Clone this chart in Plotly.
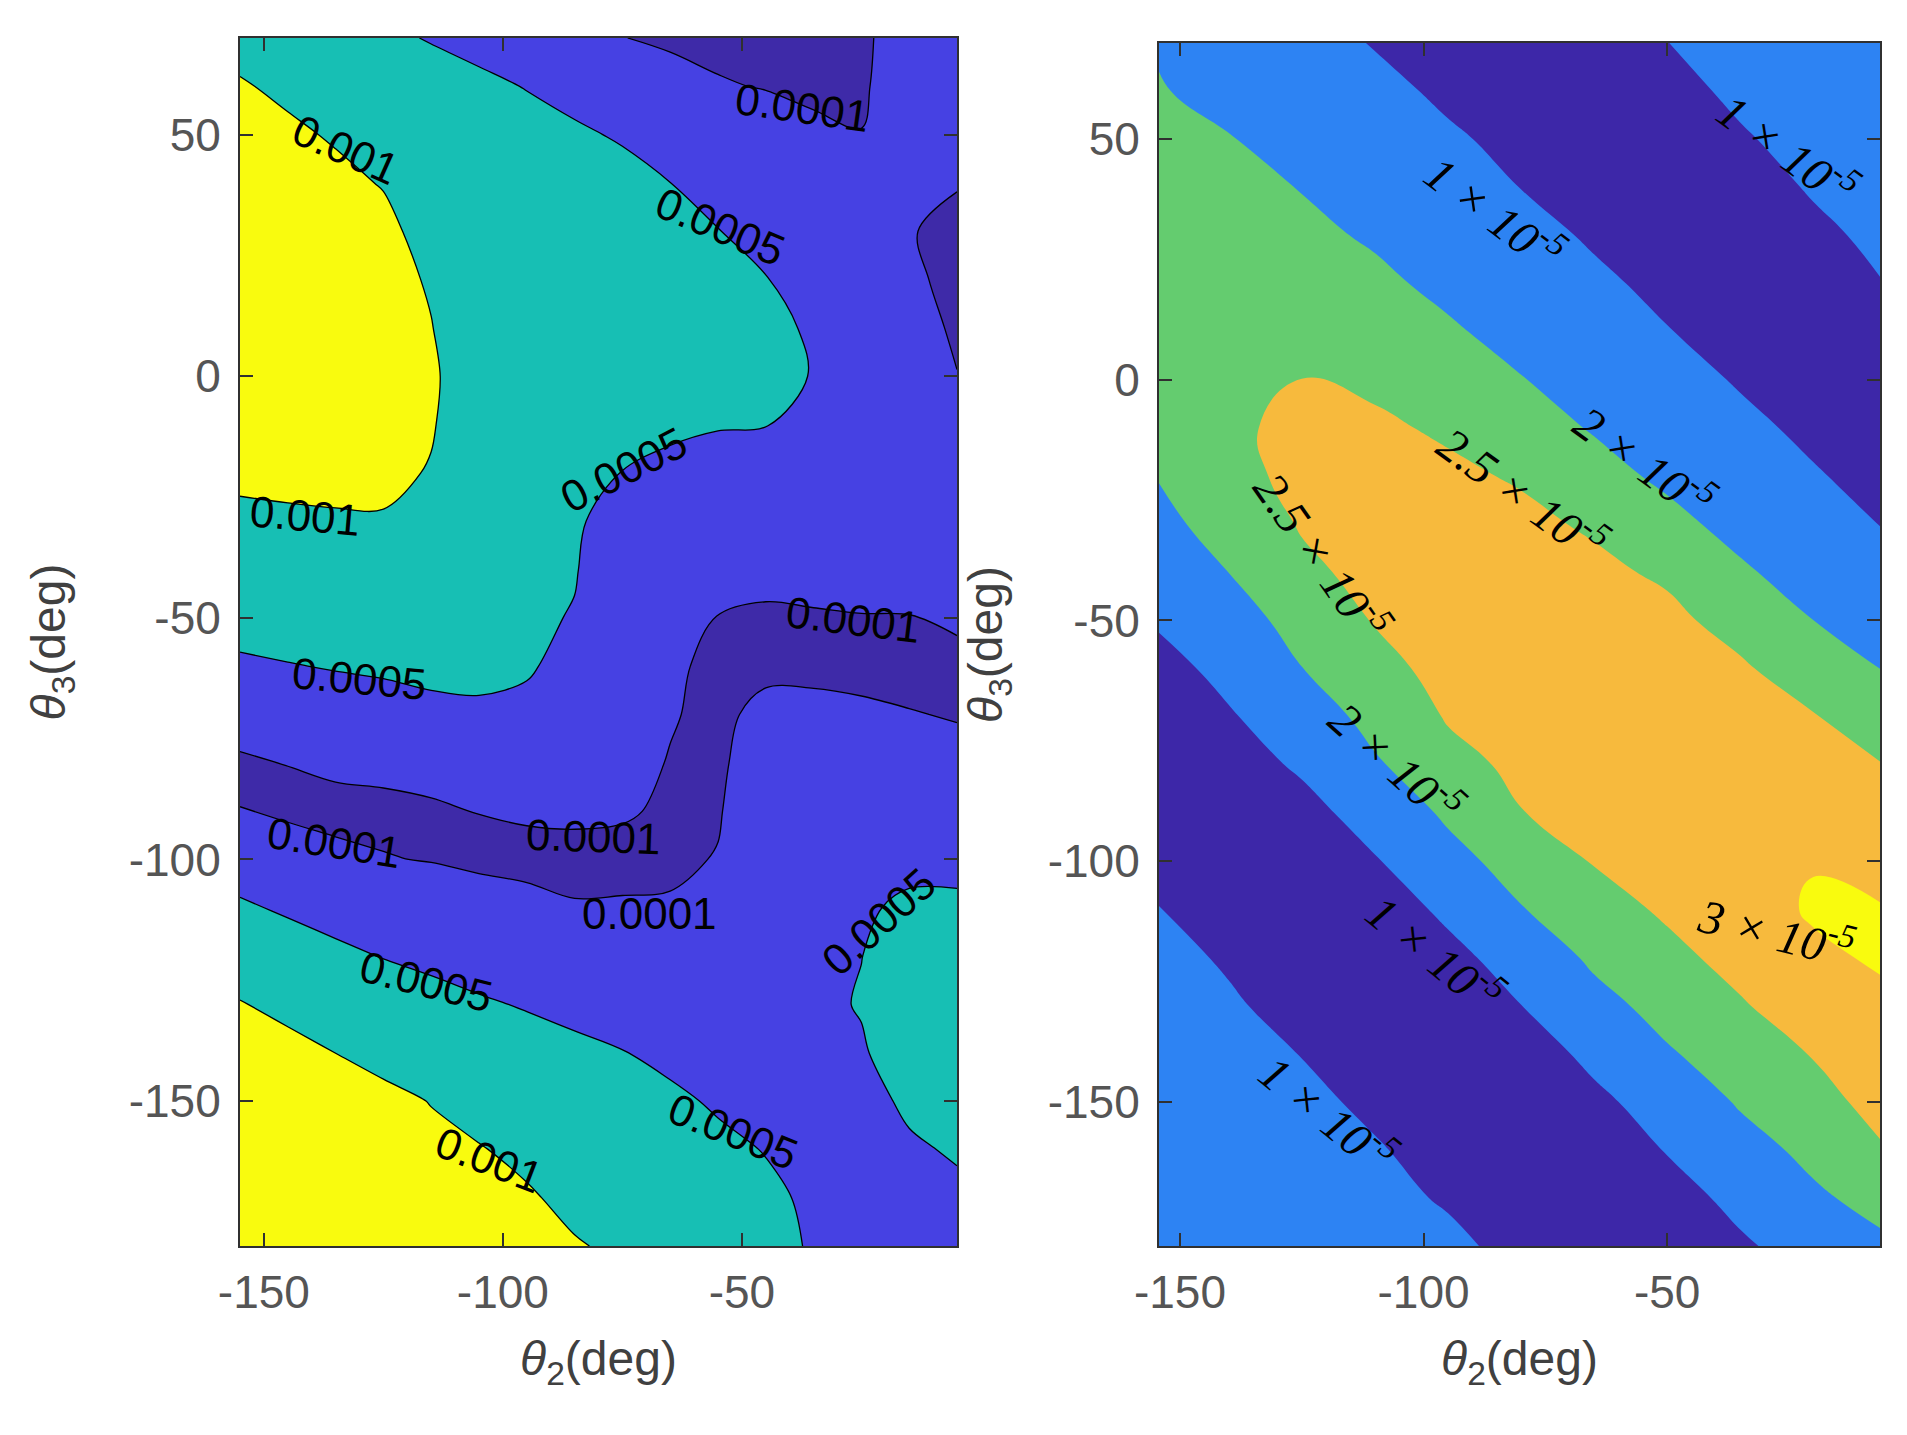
import numpy as np
import plotly.graph_objects as go

# ---------------- Left panel data (units of 1e-4) ----------------
left_theta2 = [-155, -145, -135, -125, -115, -105, -95, -85, -75, -65, -55, -45, -35, -25, -15, -5]
left_theta3 = [70, 60, 50, 40, 30, 20, 10, 0, -10, -20, -30, -40, -50, -60, -70, -80,
               -90, -100, -110, -120, -130, -140, -150, -160, -170, -180]
# one list per theta2 column, values from theta3 = 70 down to -180
left_cols = [
    [9.13, 10.22, 10.89, 11.56, 12.24, 12.91, 12.42, 11.75, 11.2, 10.6, 9.36, 7.77, 6.18, 4.52, 2.66, 0.5, 1.05, 3.29, 5.47, 7.84, 10.21, 12.3, 13.2, 13.8, 14.2, 14.5],
    [8.2, 9.5, 10.45, 11.17, 11.89, 12.62, 12.66, 11.94, 11.22, 10.8, 9.51, 7.97, 6.43, 4.87, 3.07, 1.06, 0.5, 2.67, 4.54, 6.73, 8.97, 11.2, 12.2, 13.0, 13.6, 14.0],
    [7.15, 8.45, 9.75, 10.6, 11.34, 12.08, 12.79, 12.05, 11.31, 10.9, 9.66, 8.16, 6.67, 5.18, 3.44, 1.4, 0.4, 1.53, 3.75, 5.71, 7.84, 9.98, 12.1, 12.9, 13.5, 14.0],
    [5.52, 6.97, 8.41, 9.86, 10.67, 11.42, 12.16, 12.09, 11.34, 10.9, 9.7, 8.28, 6.85, 5.43, 3.77, 1.6, 0.45, 1.11, 3.09, 4.88, 6.88, 8.91, 10.9, 12.0, 12.8, 13.4],
    [4.83, 6.2, 7.3, 8.2, 9.0, 9.6, 10.13, 10.6, 10.32, 9.75, 8.63, 7.59, 6.54, 5.5, 4.5, 2.2, 0.55, 0.9, 2.55, 4.26, 6.08, 7.98, 9.89, 10.8, 11.8, 12.5],
    [4.75, 5.17, 5.54, 5.92, 6.3, 6.67, 7.05, 7.42, 7.19, 6.8, 6.41, 6.02, 5.63, 5.23, 4.85, 3.0, 1.05, 0.55, 2.09, 3.72, 5.35, 7.0, 8.66, 10.2, 11.4, 12.2],
    [4.66, 4.97, 5.28, 5.59, 5.9, 6.21, 6.52, 6.84, 6.83, 6.49, 6.15, 5.81, 5.47, 5.13, 4.7, 3.0, 1.2, 0.54, 1.5, 3.23, 4.78, 6.25, 7.7, 9.14, 10.4, 11.5],
    [4.43, 4.78, 5.1, 5.38, 5.66, 5.94, 6.22, 6.5, 6.17, 5.84, 5.5, 5.17, 4.85, 4.6, 3.5, 2.4, 1.3, 0.5, 1.12, 2.78, 4.27, 5.6, 6.76, 7.93, 9.1, 10.27],
    [1.05, 3.0, 4.93, 5.22, 5.5, 5.8, 6.09, 5.82, 5.41, 4.97, 3.42, 3.05, 2.9, 2.6, 2.2, 1.7, 1.18, 0.5, 1.17, 2.57, 3.83, 5.08, 6.2, 7.3, 8.4, 9.4],
    [0.6, 1.96, 3.5, 5.02, 5.36, 5.71, 5.98, 5.54, 5.16, 4.79, 4.2, 3.5, 2.8, 1.4, 1.15, 0.9, 0.75, 0.6, 1.21, 2.2, 3.3, 4.4, 5.47, 6.5, 7.5, 8.4],
    [0.6, 1.13, 2.5, 3.8, 5.03, 5.4, 5.8, 5.42, 5.05, 4.67, 3.6, 2.3, 0.9, 0.45, 0.5, 0.5, 0.8, 1.11, 1.8, 2.6, 3.4, 4.1, 4.7, 5.56, 6.5, 7.4],
    [0.6, 0.92, 1.9, 3.4, 4.78, 5.025, 5.3, 5.35, 5.02, 4.62, 3.5, 2.0, 0.5, 0.5, 1.61, 2.67, 2.9, 3.2, 3.5, 3.8, 4.0, 4.2, 4.5, 4.9, 5.49, 6.0],
    [0.55, 0.78, 1.23, 2.5, 3.6, 4.7, 4.85, 4.95, 4.8, 4.5, 3.5, 2.1, 0.71, 0.5, 1.59, 2.6, 3.0, 3.5, 4.0, 4.3, 4.45, 4.4, 4.3, 4.3, 4.58, 4.7],
    [0.85, 0.8, 1.03, 2.0, 2.8, 3.2, 3.4, 3.4, 3.2, 2.9, 2.4, 1.7, 0.93, 0.5, 1.31, 2.3, 3.1, 3.8, 4.45, 4.97, 5.15, 4.75, 4.3, 4.1, 4.1, 4.1],
    [1.43, 1.91, 2.3, 1.7, 1.09, 1.28, 1.71, 2.2, 2.0, 1.8, 1.5, 1.15, 0.98, 0.5, 1.07, 1.8, 2.8, 3.9, 5.73, 6.1, 6.4, 6.3, 5.36, 4.72, 4.3, 4.2],
    [2.0, 2.3, 1.9, 1.09, 0.6, 0.6, 0.75, 1.04, 1.8, 1.6, 1.3, 1.5, 1.29, 0.5, 0.9, 1.49, 2.6, 3.8, 5.8, 6.3, 6.5, 6.4, 6.0, 5.22, 4.57, 4.3],
]
left_levels = [1, 5, 10]            # 0.0001, 0.0005, 0.001
left_colors = ["#3E2AA8", "#4641E3", "#17BFB4", "#F9FB0E"]

# ---------------- Right panel data (units of 1e-5) ----------------
right_theta2 = [-155, -140, -125, -110, -95, -80, -65, -50, -35, -20, -5]
right_theta3 = left_theta3
right_cols = [
    [1.97, 2.05, 2.14, 2.21, 2.24, 2.25, 2.23, 2.18, 2.11, 2.006, 1.83, 1.53, 1.1, 0.58, 0.15, 0.15, 0.15, 0.55, 1.07, 1.59, 1.6, 1.6, 1.6, 1.6, 1.6, 1.6],
    [1.57, 1.81, 2.03, 2.15, 2.26, 2.34, 2.39, 2.42, 2.43, 2.37, 2.23, 2.003, 1.7, 1.33, 0.89, 0.43, 0.15, 0.15, 0.32, 0.78, 1.24, 1.6, 1.6, 1.6, 1.6, 1.6],
    [1.29, 1.52, 1.75, 1.98, 2.154, 2.296, 2.412, 2.502, 2.6, 2.61, 2.53, 2.42, 2.24, 1.99, 1.66, 1.18, 0.59, 0.15, 0.15, 0.15, 0.35, 0.95, 1.55, 1.6, 1.6, 1.6],
    [0.96, 1.2, 1.44, 1.68, 1.92, 2.14, 2.32, 2.45, 2.547, 2.63, 2.69, 2.61, 2.52, 2.39, 2.19, 1.93, 1.51, 0.92, 0.26, 0.15, 0.15, 0.15, 0.54, 1.2, 1.6, 1.6],
    [0.66, 0.87, 1.1, 1.35, 1.59, 1.84, 2.09, 2.30, 2.46, 2.556, 2.64, 2.72, 2.69, 2.61, 2.53, 2.38, 2.11, 1.77, 1.27, 0.62, 0.15, 0.15, 0.15, 0.15, 0.79, 1.46],
    [0.42, 0.62, 0.81, 0.99, 1.25, 1.51, 1.77, 2.03, 2.29, 2.47, 2.57, 2.66, 2.75, 2.76, 2.67, 2.58, 2.49, 2.28, 1.97, 1.58, 0.99, 0.32, 0.15, 0.15, 0.15, 0.38],
    [0.66, 0.47, 0.52, 0.71, 0.91, 1.14, 1.41, 1.68, 1.95, 2.24, 2.46, 2.57, 2.68, 2.78, 2.82, 2.72, 2.62, 2.52, 2.36, 2.11, 1.8, 1.33, 0.71, 0.15, 0.15, 0.15],
    [0.99, 0.79, 0.59, 0.41, 0.61, 0.82, 1.03, 1.31, 1.59, 1.87, 2.2, 2.45, 2.58, 2.7, 2.81, 2.88, 2.77, 2.66, 2.55, 2.41, 2.21, 1.94, 1.58, 1.07, 0.46, 0.15],
    [1.33, 1.13, 0.93, 0.72, 0.51, 0.5, 0.71, 0.93, 1.19, 1.49, 1.78, 2.1, 2.38, 2.545, 2.67, 2.79, 2.91, 2.9, 2.75, 2.61, 2.47, 2.3, 2.06, 1.77, 1.36, 0.81],
    [1.57, 1.4, 1.23, 1.06, 0.86, 0.64, 0.42, 0.6, 0.83, 1.07, 1.38, 1.69, 2.003, 2.32, 2.52, 2.66, 2.8, 2.97, 3.06, 2.9, 2.68, 2.52, 2.37, 2.15, 1.9, 1.57],
    [1.76, 1.61, 1.46, 1.31, 1.16, 1.01, 0.78, 0.55, 0.48, 0.72, 0.95, 1.27, 1.62, 1.97, 2.28, 2.495, 2.66, 2.83, 3.01, 3.08, 2.9, 2.79, 2.64, 2.49, 2.22, 1.91],
]
right_levels = [1, 2, 2.5, 3]       # 1e-5, 2e-5, 2.5e-5, 3e-5
right_colors = ["#3D27A8", "#2D83F3", "#64CC6F", "#F7BA3D", "#F9FB0E"]

# ---------------- Tick labels ----------------
x_tickvals = [-150, -100, -50]
x_ticktext = ["-150", "-100", "-50"]
y_tickvals = [-150, -100, -50, 0, 50]
y_ticktext = ["-150", "-100", "-50", "0", "50"]

# ---------------- Contour labels ----------------
left_label_text = ["0.001", "0.001", "0.0005", "0.0005", "0.0001", "0.0001", "0.0005",
                   "0.0001", "0.0001", "0.0001", "0.0005", "0.0005", "0.001", "0.0005"]
left_label_x = [-132.8, -141.5, -54.5, -74.7, -37.3, -26.7, -130.0, -135.2, -81.0, -69.4, -21.4, -116.0, -103.0, -51.7]
left_label_y = [47.0, -28.8, 31.0, -19.2, 55.7, -50.3, -62.5, -96.4, -95.2, -111.2, -112.8, -125.2, -162.2, -156.2]
left_label_angle = [24, 5, 23, -27, 8, 7, 5, 9, 2, 0, -42, 14, 21, 22]

right_label_mant = ["1", "1", "2", "2.5", "2.5", "2", "1", "1", "3"]
right_label_x = [-85.3, -25.2, -54.5, -79.5, -120.6, -105.5, -97.4, -119.5, -27.5]
right_label_y = [35.0, 48.1, -16.7, -23.4, -36.4, -79.2, -118.8, -152.1, -114.4]
right_label_angle = [37, 36, 36, 36, 55, 42, 39, 39, 14]

# ---------------- Build figure ----------------
fig = go.Figure()


def add_bands(x, y_desc, cols, levels, colors, xa, ya, line_w, smooth):
    z = np.array(cols, dtype=float).T[::-1]      # rows = theta3 ascending
    y = list(y_desc)[::-1]
    thresholds = [float(z.min()) - 1.0] + list(levels)
    for lev, col in zip(thresholds, colors):
        # a '<' constraint shades the region where z exceeds the threshold
        fig.add_trace(go.Contour(
            x=x, y=y, z=z, xaxis=xa, yaxis=ya,
            contours=dict(type="constraint", operation="<", value=lev),
            fillcolor=col,
            line=dict(color="black", width=(line_w if lev in levels else 0), smoothing=smooth),
            showscale=False, hoverinfo="skip", showlegend=False,
        ))


add_bands(left_theta2, left_theta3, left_cols, left_levels, left_colors, "x", "y", 1.3, 1.0)
add_bands(right_theta2, right_theta3, right_cols, right_levels, right_colors, "x2", "y2", 0, 1.3)

annotations = []
for t, xv, yv, a in zip(left_label_text, left_label_x, left_label_y, left_label_angle):
    annotations.append(dict(x=xv, y=yv, xref="x", yref="y", text=t, textangle=a, showarrow=False,
                            font=dict(family="Liberation Sans", size=44, color="black")))
for m, xv, yv, a in zip(right_label_mant, right_label_x, right_label_y, right_label_angle):
    annotations.append(dict(x=xv, y=yv, xref="x2", yref="y2",
                            text="<i>%s \u00d7 10<sup>-5</sup></i>" % m, textangle=a, showarrow=False,
                            font=dict(family="Liberation Serif", size=48, color="black")))

W, H = 1907, 1435
tickfont = dict(family="Liberation Sans", size=46, color="#555555")
titlefont = dict(family="Liberation Sans", size=48, color="#404040")
axis_common = dict(showgrid=False, zeroline=False, showline=True, linecolor="#303030", linewidth=2,
                   mirror="allticks", ticks="inside", ticklen=13, tickwidth=1.6, tickcolor="#303030",
                   tickfont=tickfont, automargin=False)

xt = "<i>\u03b8</i><sub>2</sub>(deg)"
yt = "<i>\u03b8</i><sub>3</sub>(deg)"

fig.update_layout(
    width=W, height=H,
    margin=dict(l=0, r=0, t=0, b=0),
    paper_bgcolor="white", plot_bgcolor="white",
    annotations=annotations,
    xaxis=dict(domain=[232 / W, 949 / W], range=[-155, -5], tickvals=x_tickvals, ticktext=x_ticktext,
               anchor="y", ticklabelstandoff=5,
               title=dict(text=xt, font=titlefont, standoff=24), **axis_common),
    yaxis=dict(domain=[1 - 1238 / H, 1 - 30 / H], range=[-180, 70], tickvals=y_tickvals, ticktext=y_ticktext,
               anchor="x", ticklabelstandoff=8,
               title=dict(text=yt, font=titlefont, standoff=48), **axis_common),
    xaxis2=dict(domain=[1151 / W, 1872 / W], range=[-154.3, -6.3], tickvals=x_tickvals, ticktext=x_ticktext,
                anchor="y2", ticklabelstandoff=5,
                title=dict(text=xt, font=titlefont, standoff=24), **axis_common),
    yaxis2=dict(domain=[1 - 1238 / H, 1 - 35 / H], range=[-180, 70], tickvals=y_tickvals, ticktext=y_ticktext,
                anchor="x2", ticklabelstandoff=8,
                title=dict(text=yt, font=titlefont, standoff=30), **axis_common),
)

fig.write_html("out.html")
